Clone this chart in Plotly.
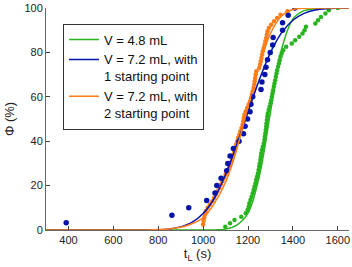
import plotly.graph_objects as go

# ---- data ----
# fitted curves (sampled every 50 s)
fit_t = [300, 350, 400, 450, 500, 550, 600, 650, 700, 750, 800, 850, 900, 950, 1000,
         1050, 1100, 1150, 1200, 1250, 1300, 1350, 1400, 1450, 1500, 1550, 1600, 1650]
fit_green = [0, 0, 0, 0, 0, 0, 0, 0, 0, 0, 0, 0, 0, 0, 0,
             0.05, 0.4, 2.2, 7.6, 24, 53, 81.5, 95, 98.8, 99.7, 99.95, 100, 100]
fit_blue = [0, 0, 0, 0, 0, 0, 0, 0, 0.01, 0.05, 0.15, 0.5, 1.4, 3.4, 7.4,
            14.3, 25, 38.5, 53, 67.6, 79.9, 88.9, 94.5, 97.6, 99.1, 99.7, 99.9, 100]
fit_orange = [0, 0, 0, 0, 0, 0, 0, 0, 0, 0.05, 0.2, 0.5, 1.2, 2.8, 5.5,
              12, 21.5, 36.5, 55.5, 74, 88.5, 96.5, 99.3, 99.9, 100, 100, 100, 100]

# measured points
blue_t = [390, 861, 936, 1016, 1053, 1061, 1080, 1105, 1110, 1120, 1135, 1160, 1180, 1187, 1198,
          1209, 1213, 1221, 1258, 1262, 1275, 1280, 1287, 1299, 1310, 1312, 1354, 1354, 1379, 1409]
blue_phi = [3.3, 6.7, 10.0, 13.3, 16.7, 20.0, 23.3, 26.7, 30.0, 33.3, 36.7, 40.0, 43.3, 46.7, 50.0,
            53.3, 56.7, 60.0, 63.3, 66.7, 70.0, 73.3, 76.7, 80.0, 83.3, 86.7, 90.0, 93.3, 96.7, 100.0]

green_t = [1099, 1120, 1140, 1170, 1190, 1198, 1203, 1206, 1211, 1216, 1221, 1225, 1229, 1233, 1236,
           1240, 1244, 1247, 1250, 1252, 1255, 1257, 1259, 1262, 1266, 1270, 1273, 1275, 1277, 1279,
           1281, 1282, 1284, 1286, 1288, 1292, 1296, 1300, 1303, 1306, 1309, 1312, 1315, 1318, 1321,
           1324, 1327, 1330, 1334, 1338, 1341, 1345, 1350, 1357, 1370, 1395, 1410, 1428, 1443, 1452,
           1458, 1500, 1512, 1525, 1545, 1560, 1600]
green_phi = [1.5, 3.0, 4.5, 6.0, 7.5, 9.0, 10.5, 12.0, 13.5, 15.0, 16.5, 18.0, 19.5, 21.0, 22.5,
             24.0, 25.5, 27.0, 28.5, 30.0, 31.5, 33.0, 34.5, 36.0, 37.5, 39.0, 40.5, 42.0, 43.5, 45.0,
             46.5, 48.0, 49.5, 51.0, 52.5, 54.0, 55.5, 57.0, 58.5, 60.0, 61.5, 63.0, 64.5, 66.0, 67.5,
             69.0, 70.5, 72.0, 73.5, 75.0, 76.5, 78.0, 79.5, 81.0, 82.5, 84.0, 85.5, 87.0, 88.5, 90.0,
             91.5, 93.0, 94.5, 96.0, 97.5, 99.0, 100.0]

orange_t = [1000, 1002, 1005, 1008, 1012, 1020, 1030, 1041, 1049, 1056, 1064, 1072, 1079, 1086, 1093,
            1100, 1108, 1116, 1122, 1127, 1131, 1135, 1139, 1143, 1147, 1152, 1156, 1161, 1166, 1171,
            1176, 1179, 1181, 1184, 1190, 1196, 1203, 1209, 1213, 1217, 1221, 1225, 1228, 1230, 1232,
            1234, 1237, 1250, 1254, 1257, 1260, 1263, 1266, 1270, 1274, 1277, 1281, 1284, 1287, 1293,
            1303, 1316, 1330, 1345, 1376, 1408]
orange_phi = [2.5, 4.0, 5.5, 7.0, 8.5, 10.0, 11.5, 13.0, 14.5, 16.0, 17.5, 19.0, 20.5, 22.0, 23.5,
              25.0, 26.5, 28.0, 29.5, 31.0, 32.5, 34.0, 35.5, 37.0, 38.5, 40.0, 41.5, 43.0, 44.5, 46.0,
              47.5, 49.0, 50.5, 52.0, 53.5, 55.0, 56.5, 58.0, 59.5, 61.0, 62.5, 64.0, 65.5, 67.0, 68.5,
              70.0, 71.5, 73.0, 74.5, 76.0, 77.5, 79.0, 80.5, 82.0, 83.5, 85.0, 86.5, 88.0, 89.5, 91.0,
              92.5, 94.0, 95.5, 97.0, 98.5, 100.0]

labels = ["V = 4.8 mL", "V = 7.2 mL, with<br>1 starting point", "V = 7.2 mL, with<br>2 starting point"]
x_ticks = [400, 600, 800, 1000, 1200, 1400, 1600]
y_ticks = [0, 20, 40, 60, 80, 100]

GREEN = "rgb(40,180,30)"
BLUE = "rgb(5,20,170)"
ORANGE = "rgb(255,125,25)"

fig = go.Figure()
fig.add_trace(go.Scatter(x=green_t, y=green_phi, mode="markers", showlegend=False,
                         marker=dict(color=GREEN, size=4.5)))
fig.add_trace(go.Scatter(x=orange_t, y=orange_phi, mode="markers", showlegend=False,
                         marker=dict(color=ORANGE, size=4.5)))
fig.add_trace(go.Scatter(x=blue_t, y=blue_phi, mode="markers", showlegend=False,
                         marker=dict(color=BLUE, size=5.5)))
fig.add_trace(go.Scatter(x=fit_t, y=fit_green, mode="lines", name=labels[0],
                         line=dict(color=GREEN, width=1.5, shape="spline")))
fig.add_trace(go.Scatter(x=fit_t, y=fit_blue, mode="lines", name=labels[1],
                         line=dict(color=BLUE, width=1.5, shape="spline")))
fig.add_trace(go.Scatter(x=fit_t, y=fit_orange, mode="lines", name=labels[2],
                         line=dict(color=ORANGE, width=1.5, shape="spline")))

axis_common = dict(showgrid=False, zeroline=False, showline=True, linecolor="#666",
                   linewidth=1, ticks="inside", ticklen=4, tickcolor="#444",
                   ticklabeloverflow="allow",
                   tickfont=dict(size=11, color="#222"))
fig.update_layout(
    width=352, height=267,
    margin=dict(l=46, r=2, t=6, b=37),
    paper_bgcolor="white", plot_bgcolor="white",
    font=dict(family="Liberation Sans, Arial, sans-serif", color="#222"),
    xaxis=dict(range=[300, 1650], tickvals=x_ticks,
               title=dict(text="t<sub>L</sub> (s)", font=dict(size=13), standoff=3),
               **axis_common),
    yaxis=dict(range=[0, 100], tickvals=y_ticks,
               title=dict(text="Φ (%)", font=dict(size=13), standoff=6),
               **axis_common),
    legend=dict(x=0.056, y=0.93, xanchor="left", yanchor="top",
                bordercolor="#333", borderwidth=1, bgcolor="white",
                font=dict(size=13, color="#111"), valign="top",
                tracegroupgap=0),
)
fig.write_html("out.html", config={"displayModeBar": False},
               post_script="document.body.style.margin='0';")
